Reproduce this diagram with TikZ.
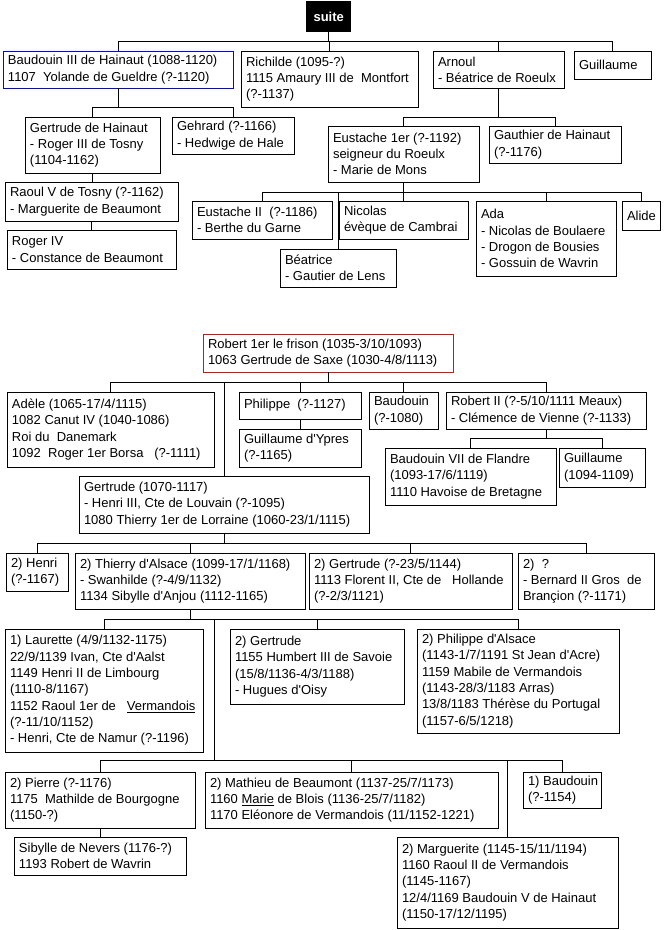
\documentclass[tikz,border=0pt]{standalone}
\usepackage{fontspec}
\setmainfont{Liberation Sans}[Ligatures=TeXOff]
\tikzset{
  pbox/.style={draw=black, line width=1pt, anchor=north west, inner sep=0pt, outer sep=0pt},
  ptext/.style={anchor=west, align=left, inner sep=0pt, outer sep=0pt},
  conn/.style={draw=black, line width=1pt}
}
\newcommand{\gbox}[7][]{%
  \pgfmathsetmacro\gbW{#5-#3}%
  \pgfmathsetmacro\gbH{#6-#4}%
  \pgfmathsetmacro\gbX{#3+5}%
  \pgfmathsetmacro\gbY{(#4+#6)/2}%
  \node[pbox,#1,minimum width=\gbW pt,minimum height=\gbH pt] (#2) at (#3,#4) {};%
  \node[ptext] (#2-t) at (\gbX,\gbY) {#7};%
}
\newcommand{\famlink}[3]{%
  \foreach \cc in {#3} {\draw[conn] (#1.south) |- (\cc.north |- #2) -- (\cc.north);}%
}
\begin{document}
\begin{tikzpicture}[x=1pt,y=-1pt,font=\fontsize{13}{16.3}\selectfont]
\fill[white] (0,0) rectangle (665,930);
\useasboundingbox (0,0) rectangle (665,930);
% bus levels
\coordinate (y41) at (0,41);
\coordinate (y107) at (0,107);
\coordinate (y117) at (0,117);
\coordinate (y192) at (0,192);
\coordinate (y382) at (0,382);
\coordinate (y438) at (0,438);
\coordinate (y543) at (0,543);
\coordinate (y619) at (0,619);
\coordinate (tj) at (214,760);
% ---------- top tree ----------
\node[fill=black, anchor=north west, inner sep=0pt, minimum width=45pt, minimum height=31pt,
      text=white, font=\fontsize{13}{16}\selectfont\bfseries] (suite) at (306,1) {suite};
\gbox[draw=blue]{baud3}{3}{51}{233}{88}{Baudouin III de Hainaut (1088-1120)\\1107\ \ Yolande de Gueldre (?-1120)}
\gbox{richilde}{241}{51}{418}{107}{Richilde (1095-?)\\1115 Amaury III de\ \ Montfort\\(?-1137)}
\gbox{arnoul}{433}{51}{564}{88}{Arnoul\\- Béatrice de Roeulx}
\gbox{guil1}{574}{51}{651}{79}{Guillaume}
\gbox{gertH}{25}{117}{160}{173}{Gertrude de Hainaut\\- Roger III de Tosny\\(1104-1162)}
\gbox{gehrard}{172}{117}{294}{154}{Gehrard (?-1166)\\- Hedwige de Hale}
\gbox{raoul}{5}{182}{178}{221}{Raoul V de Tosny (?-1162)\\- Marguerite de Beaumont}
\gbox{roger4}{7}{230}{176}{269}{Roger IV\\- Constance de Beaumont}
\gbox{eust1}{328}{126}{479}{182}{Eustache 1er (?-1192)\\seigneur du Roeulx\\- Marie de Mons}
\gbox{gauthier}{489}{126}{621}{163}{Gauthier de Hainaut\\(?-1176)}
\gbox{eust2}{192}{201}{332}{239}{Eustache II\ \ (?-1186)\\- Berthe du Garne}
\gbox{nicolas}{339}{201}{468}{239}{Nicolas\\évèque de Cambrai}
\gbox{beatrice}{280}{249}{396}{287}{Béatrice\\- Gautier de Lens}
\gbox{ada}{476}{201}{616}{276}{Ada\\- Nicolas de Boulaere\\- Drogon de Bousies\\- Gossuin de Wavrin}
\gbox{alide}{622}{201}{660}{230}{Alide}
% ---------- bottom tree ----------
\gbox[draw=red]{robert1}{203}{334}{453}{372}{Robert 1er le frison (1035-3/10/1093)\\1063 Gertrude de Saxe (1030-4/8/1113)}
\gbox{adele}{7}{392}{214}{467}{Adèle (1065-17/4/1115)\\1082 Canut IV (1040-1086)\\Roi du\ \ Danemark\\1092\ \ Roger 1er Borsa\ \ \ (?-1111)}
\gbox{philippe}{239}{392}{361}{419}{Philippe\ \ (?-1127)}
\gbox{guilY}{239}{429}{361}{467}{Guillaume d'Ypres\\(?-1165)}
\gbox{baudouin}{369}{392}{438}{429}{Baudouin\\(?-1080)}
\gbox{robert2}{446}{392}{646}{429}{Robert II (?-5/10/1111 Meaux)\\- Clémence de Vienne (?-1133)}
\gbox{baud7}{385}{448}{556}{505}{Baudouin VII de Flandre\\(1093-17/6/1119)\\1110 Havoise de Bretagne}
\gbox{guil2}{559}{448}{645}{487}{Guillaume\\(1094-1109)}
\gbox{gert1070}{79}{476}{369}{533}{Gertrude (1070-1117)\\- Henri III, Cte de Louvain (?-1095)\\1080 Thierry 1er de Lorraine (1060-23/1/1115)}
\gbox{henri}{6}{553}{68}{591}{2) Henri\\(?-1167)}
\gbox{thierry}{75}{553}{305}{609}{2) Thierry d'Alsace (1099-17/1/1168)\\- Swanhilde (?-4/9/1132)\\1134 Sibylle d'Anjou (1112-1165)}
\gbox{gert2}{309}{553}{512}{609}{2) Gertrude (?-23/5/1144)\\1113 Florent II, Cte de\ \ \ Hollande\\(?-2/3/1121)}
\gbox{unk}{518}{553}{654}{609}{2)\ \ ?\\- Bernard II Gros\ \ de\\Brançion (?-1171)}
\gbox{laurette}{5}{629}{203}{752}{1) Laurette (4/9/1132-1175)\\22/9/1139 Ivan, Cte d'Aalst\\1149 Henri II de Limbourg\\(1110-8/1167)\\1152 Raoul 1er de\ \ \ \underline{Vermandois}\\(?-11/10/1152)\\- Henri, Cte de Namur (?-1196)}
\gbox{gert3}{230}{629}{404}{704}{2) Gertrude\\1155 Humbert III de Savoie\\(15/8/1136-4/3/1188)\\- Hugues d'Oisy}
\gbox{philA}{417}{629}{619}{733}{2) Philippe d'Alsace\\(1143-1/7/1191 St Jean d'Acre)\\1159 Mabile de Vermandois\\(1143-28/3/1183 Arras)\\13/8/1183 Thérèse du Portugal\\(1157-6/5/1218)}
\gbox{pierre}{5}{772}{195}{828}{2) Pierre (?-1176)\\1175\ \ Mathilde de Bourgogne\\(1150-?)}
\gbox{sibylle}{14}{837}{186}{875}{Sibylle de Nevers (1176-?)\\1193 Robert de Wavrin}
\gbox{mathieu}{205}{772}{498}{828}{2) Mathieu de Beaumont (1137-25/7/1173)\\1160 \underline{Marie} de Blois (1136-25/7/1182)\\1170 Eléonore de Vermandois (11/1152-1221)}
\gbox{baud1}{523}{772}{601}{808}{1) Baudouin\\(?-1154)}
\gbox{marg}{397}{837}{618}{928}{2) Marguerite (1145-15/11/1194)\\1160 Raoul II de Vermandois\\(1145-1167)\\12/4/1169 Baudouin V de Hainaut\\(1150-17/12/1195)}
% ---------- connectors ----------
\famlink{suite}{y41}{baud3,richilde,arnoul,guil1}
\famlink{baud3}{y107}{gertH,gehrard}
\draw[conn] (gertH.south) -- (gertH.south |- raoul.north);
\draw[conn] (raoul.south) -- (raoul.south |- roger4.north);
\famlink{arnoul}{y117}{eust1,gauthier}
\famlink{eust1}{y192}{eust2,beatrice,nicolas,ada,alide}
\famlink{robert1}{y382}{adele,gert1070,philippe,baudouin,robert2}
\draw[conn] (philippe.south) -- (philippe.south |- guilY.north);
\famlink{robert2}{y438}{baud7,guil2}
\famlink{gert1070}{y543}{henri,thierry,gert2,unk}
\famlink{thierry}{y619}{laurette,gert3,philA}
\draw[conn] (thierry.south) |- (tj |- y619) -- (tj);
\foreach \cc in {pierre,mathieu,marg,baud1} {\draw[conn] (tj) -| (\cc.north);}
\draw[conn] (pierre.south) -- (pierre.south |- sibylle.north);
\end{tikzpicture}
\end{document}
